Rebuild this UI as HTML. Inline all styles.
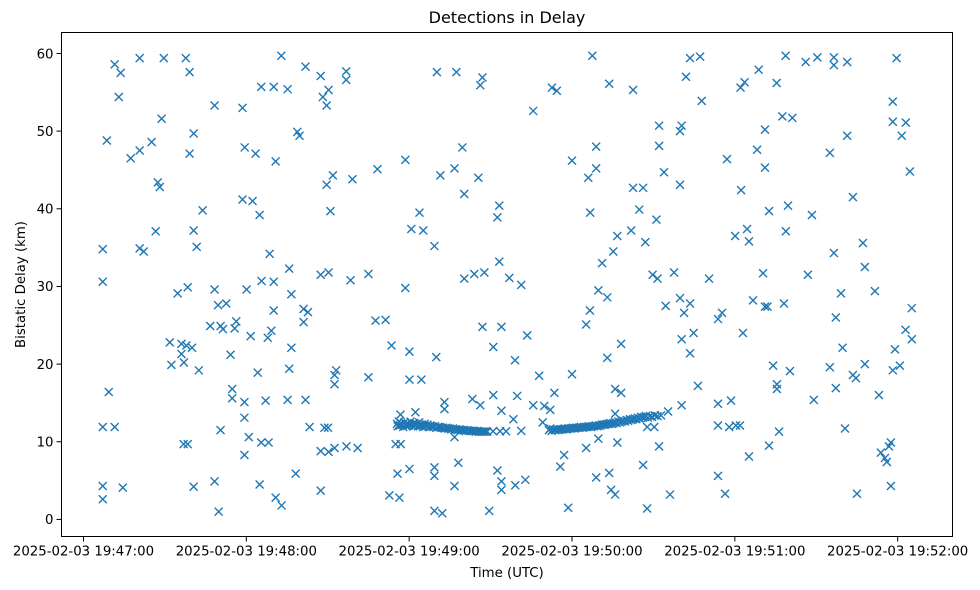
<!DOCTYPE html>
<html><head><meta charset="utf-8"><style>
html,body{margin:0;padding:0;background:#fff;}
svg{display:block;font-family:"DejaVu Sans","Liberation Sans",sans-serif;}
</style></head><body>
<svg id="chart" width="980" height="590" viewBox="0 0 980 590" xmlns="http://www.w3.org/2000/svg">
<rect x="0" y="0" width="980" height="590" fill="#fff"/>
<text x="507" y="23" font-size="16" text-anchor="middle" fill="#000">Detections in Delay</text>
<g id="marks"></g>
<g id="axes"></g>
<rect x="61.5" y="32.5" width="891" height="504" fill="none" stroke="#000" stroke-width="1"/>
<text x="507" y="577" font-size="13.3" text-anchor="middle" fill="#000">Time (UTC)</text>
<text x="0" y="0" font-size="13.3" text-anchor="middle" fill="#000" transform="translate(25,284.5) rotate(-90)">Bistatic Delay (km)</text>
</svg>
<script>
// seconds after 2025-02-03 19:47:00 UTC
const times = [11.5,20.7,29.6,37.7,13.7,39.1,72.9,81.8,87.4,96.8,96.8,13.0,65.5,70.1,75.2,90.3,88.2,89.6,48.3,58.6,28.8,40.6,78.8,79.6,8.6,25.1,20.7,17.4,39.1,59.4,63.4,70.8,27.4,28.1,91.9,89.6,99.1,43.9,58.6,62.3,64.9,91.0,26.6,40.6,41.7,7.1,20.7,22.2,68.6,75.8,87.4,90.3,98.4,7.1,65.6,70.1,
34.7,38.4,48.3,60.1,76.6,49.6,52.6,70.1,81.1,82.7,81.1,46.7,50.5,51.4,55.7,56.3,61.6,69.2,67.9,76.6,31.8,36.1,37.9,40.0,36.1,54.2,32.4,37.0,42.5,64.2,75.8,93.1,92.5,92.5,9.3,54.8,54.8,59.3,67.1,75.2,81.8,59.3,7.1,11.5,50.5,60.9,83.3,88.8,90.1,36.9,38.4,65.5,68.2,59.3,87.4,90.3,92.5,96.9,101,78.2,7.1,14.5,40.6,48.3,64.9,70.8,73.0,87.4,7.1,49.8,
187.5,130.2,137.4,147.0,146.2,172.6,174.4,193.7,202.5,165.7,212.1,212.1,139.6,188.9,118.6,108.3,131.5,136.7,145.5,180.0,186.0,188.9,140.3,202.5,206.2,153.2,152.5,123.8,120.8,125.2,129.3,186.7,204.8,211.1,196.7,201.8,207.0,195.2,191.1,105.0,153.2,140.3,144.0,147.7,156.9,161.3,118.6,189.7,209.7,211.5,
193.0,186.6,185.2,107.6,111.3,147.0,154.0,163.5,113.5,120.1,130.0,151.0,159.0,193.0,198.1,105.0,120.1,124.5,167.9,180.0,173.5,195.9,198.1,143.3,146.2,151.0,159.8,165.7,169.8,172.0,133.0,133.0,122.3,116.8,154.0,158.4,195.9,169.2,136.7,115.0,116.9,185.2,189.7,196.7,207.7,210.3,212.1,177.1,175.7,206.2,138.1,120.1,115.7,129.3,129.3,136.7,152.5,154.0,154.0,159.1,162.8,188.9,193.7,194.4,195.9,112.7,116.4,129.3,132.2,149.5,178.6,207.7,161.3,
223.5,227.2,222.0,227.8,220.4,219.8,213.9,219.8,217.6,230.5,258.7,266.1,270.4,276.5,276.5,281.4,299.6,248.8,243.6,242.1,255.4,257.5,261.2,251.1,248.2,237.1,251.1,242.3,281.4,275.0,298.2,298.2,303.0,301.5,304.5,283.5,252.6,259.6,268.4,244.5,240.1,245.2,258.8,276.5,287.2,287.9,250.4,266.9,
279.1,291.6,214.5,219.8,223.5,221.3,233.8,235.3,246.7,251.1,252.0,258.1,277.2,305.2,220.4,224.8,223.5,243.0,302.9,305.2,279.7,299.0,254.1,260.3,275.0,287.9,283.5,284.6,298.2,300.8,226.4,255.5,255.5,277.2,293.1,269.1,220.4,215.4,233.8,238.6,233.8,237.9,240.4,241.9,256.3,280.6,252.6,245.2,293.8,296.8,297.5,295.3,296.0,233.8,216.1,236.4,285.0,297.5,
115.5,115.8,116.2,116.6,117.0,117.4,117.8,118.3,118.7,119.1,119.6,120.0,120.5,121.0,121.4,121.9,122.3,122.8,123.3,123.7,124.2,124.7,125.2,125.7,126.2,126.7,127.2,127.8,128.3,128.9,129.5,130.1,130.7,131.3,131.9,132.5,133.1,133.7,134.3,134.9,135.5,136.1,136.7,137.3,137.9,138.5,139.1,139.7,140.3,140.9,141.5,142.1,142.7,143.3,143.9,144.5,145.1,145.7,146.3,146.9,147.5,148.1,148.8,150.9,153.5,155.7,
171.5,172.0,172.5,173.1,173.7,174.3,174.9,175.5,176.1,176.7,177.3,177.9,178.5,179.1,179.7,180.3,180.9,181.5,182.1,182.7,183.3,183.9,184.5,185.1,185.7,186.3,186.9,187.5,188.1,188.7,189.3,189.9,190.5,191.1,191.7,192.3,192.9,193.5,194.1,194.7,195.3,195.9,196.5,197.1,197.7,198.3,198.9,199.5,200.1,200.7,201.3,201.9,202.5,203.1,203.7,204.3,204.9,205.5,206.1,206.7,207.3,208.0,208.7,209.5,210.5,211.5,212.8];
// bistatic delay in km
const delays = [58.6,59.4,59.4,59.4,57.5,57.6,59.7,58.3,57.1,57.7,56.6,54.4,55.7,55.7,55.4,55.3,54.4,53.3,53.3,53.0,51.6,49.7,49.9,49.4,48.8,48.6,47.5,46.5,47.1,47.9,47.1,46.1,43.4,42.8,44.3,43.1,43.8,39.8,41.2,41.0,39.2,39.7,37.1,37.2,35.1,34.8,34.9,34.5,34.2,32.3,31.5,31.8,30.8,30.6,30.7,30.6,
29.1,29.9,29.6,29.6,29.0,27.6,27.8,26.9,27.1,26.7,25.4,24.9,24.9,24.5,24.6,25.5,23.6,24.3,23.4,22.1,22.8,22.6,22.4,22.1,21.3,21.2,19.9,20.2,19.2,18.9,19.4,19.2,18.6,17.4,16.4,16.8,15.6,15.1,15.3,15.4,15.4,13.1,11.9,11.9,11.5,10.6,11.9,11.8,11.8,9.7,9.7,9.9,9.9,8.3,8.8,8.7,9.2,9.4,9.2,5.9,4.3,4.1,4.2,4.9,4.5,2.8,1.8,3.7,2.6,1.0,
59.7,57.6,57.6,56.9,55.9,55.6,55.2,56.1,55.3,52.6,50.7,48.1,47.9,48.0,46.3,45.1,44.3,45.2,44.0,46.2,44.0,45.2,41.9,42.7,42.7,40.4,38.9,39.5,37.4,37.2,35.2,39.5,39.9,38.6,36.5,37.2,35.7,34.5,33.0,31.6,33.2,31.0,31.6,31.8,31.1,30.2,29.8,29.5,31.5,31.0,
28.6,26.9,25.1,25.6,25.7,24.8,24.8,23.7,22.4,21.6,20.9,22.2,20.5,20.8,22.6,18.3,18.0,18.0,18.5,18.7,16.3,16.8,16.3,15.5,14.7,16.0,15.9,14.7,14.6,14.1,15.1,14.2,13.8,13.5,14.0,12.9,13.6,12.5,10.6,9.7,9.7,9.2,10.4,9.9,11.9,11.9,9.4,8.3,6.8,7.0,7.3,6.5,5.9,6.7,5.6,4.3,6.3,4.9,3.8,4.4,5.1,5.4,6.0,3.8,3.2,3.1,2.8,1.1,0.8,1.1,1.5,1.4,11.4,
59.4,59.6,57.0,53.9,50.7,50.0,44.7,43.1,31.8,31.0,59.7,58.9,59.5,59.5,58.5,58.9,59.4,57.9,56.3,55.6,56.2,51.9,51.7,50.2,47.6,46.4,45.3,42.4,49.4,47.2,53.8,51.2,51.1,49.4,44.8,41.5,39.7,40.4,39.2,37.4,36.5,35.8,37.1,34.3,35.6,32.5,31.7,31.5,
29.1,29.4,27.5,28.5,27.8,26.6,25.8,26.6,28.2,27.4,27.4,27.8,26.0,27.2,23.2,24.0,21.4,24.0,24.4,23.2,22.1,21.9,19.8,19.1,19.6,20.0,18.6,18.2,19.2,19.8,17.2,17.4,16.8,16.9,16.0,15.4,14.7,13.9,14.9,15.3,12.1,11.9,12.1,12.1,11.3,11.7,9.5,8.1,8.6,9.4,9.9,7.9,7.4,5.6,3.2,3.3,3.3,4.3,
12.3,12.0,12.6,12.1,12.4,12.2,11.9,12.5,12.2,12.0,12.3,12.1,12.6,12.2,12.0,12.4,12.1,12.3,12.0,12.5,12.1,12.2,11.9,12.3,12.0,12.2,11.9,12.1,12.0,11.9,12.0,11.8,11.9,11.9,11.8,11.8,11.7,11.8,11.7,11.7,11.6,11.7,11.6,11.6,11.5,11.6,11.5,11.5,11.5,11.4,11.5,11.4,11.4,11.4,11.4,11.3,11.4,11.3,11.3,11.3,11.3,11.3,11.3,11.35,11.35,11.35,
11.5,11.7,11.4,11.6,11.5,11.6,11.5,11.6,11.6,11.6,11.7,11.6,11.7,11.7,11.7,11.8,11.7,11.8,11.8,11.8,11.9,11.8,11.9,11.9,11.9,12.0,11.9,12.0,12.0,12.1,12.0,12.1,12.1,12.2,12.2,12.2,12.3,12.3,12.4,12.3,12.4,12.5,12.4,12.6,12.5,12.6,12.7,12.6,12.8,12.7,12.9,12.8,12.9,13.0,12.9,13.1,13.0,13.2,13.1,13.2,13.3,13.1,13.3,13.2,13.4,13.3,13.4];
const xTickValues = [0,60,120,180,240,300];
const xTickLabels = ["2025-02-03 19:47:00","2025-02-03 19:48:00","2025-02-03 19:49:00","2025-02-03 19:50:00","2025-02-03 19:51:00","2025-02-03 19:52:00"];
const yTickValues = [0,10,20,30,40,50,60];
const yTickLabels = ["0","10","20","30","40","50","60"];

const NS = "http://www.w3.org/2000/svg";
const plot = {left:61.5, right:952.5, top:32.5, bottom:536.5};
const xDom = [-8.1, 320.2], yDom = [-2.2, 62.7];
function xs(t){ return plot.left + (t - xDom[0]) / (xDom[1] - xDom[0]) * (plot.right - plot.left); }
function ys(d){ return plot.bottom - (d - yDom[0]) / (yDom[1] - yDom[0]) * (plot.bottom - plot.top); }

const marks = document.getElementById('marks');
const n = Math.min(times.length, delays.length);
for (let i = 0; i < n; i++) {
  const cx = xs(times[i]), cy = ys(delays[i]);
  const p = document.createElementNS(NS, 'path');
  p.setAttribute('d', `M${cx-4},${cy-4}L${cx+4},${cy+4}M${cx-4},${cy+4}L${cx+4},${cy-4}`);
  p.setAttribute('stroke', '#1f77b4');
  p.setAttribute('stroke-width', '1.4');
  p.setAttribute('fill', 'none');
  
  
  marks.appendChild(p);
}

const axes = document.getElementById('axes');
xTickValues.forEach((v, i) => {
  const x = xs(v);
  const l = document.createElementNS(NS, 'line');
  l.setAttribute('x1', x); l.setAttribute('x2', x);
  l.setAttribute('y1', plot.bottom); l.setAttribute('y2', plot.bottom + 5);
  l.setAttribute('stroke', '#000');
  
  
  axes.appendChild(l);
  const t = document.createElementNS(NS, 'text');
  t.setAttribute('x', x); t.setAttribute('y', plot.bottom + 19);
  t.setAttribute('font-size', '13.3'); t.setAttribute('text-anchor', 'middle');
  t.textContent = xTickLabels[i];
  
  
  axes.appendChild(t);
});
yTickValues.forEach((v, i) => {
  const y = ys(v);
  const l = document.createElementNS(NS, 'line');
  l.setAttribute('x1', plot.left - 5); l.setAttribute('x2', plot.left);
  l.setAttribute('y1', y); l.setAttribute('y2', y);
  l.setAttribute('stroke', '#000');
  
  
  axes.appendChild(l);
  const t = document.createElementNS(NS, 'text');
  t.setAttribute('x', plot.left - 8); t.setAttribute('y', y + 4.8);
  t.setAttribute('font-size', '13.3'); t.setAttribute('text-anchor', 'end');
  t.textContent = yTickLabels[i];
  
  
  axes.appendChild(t);
});
</script>
</body></html>
